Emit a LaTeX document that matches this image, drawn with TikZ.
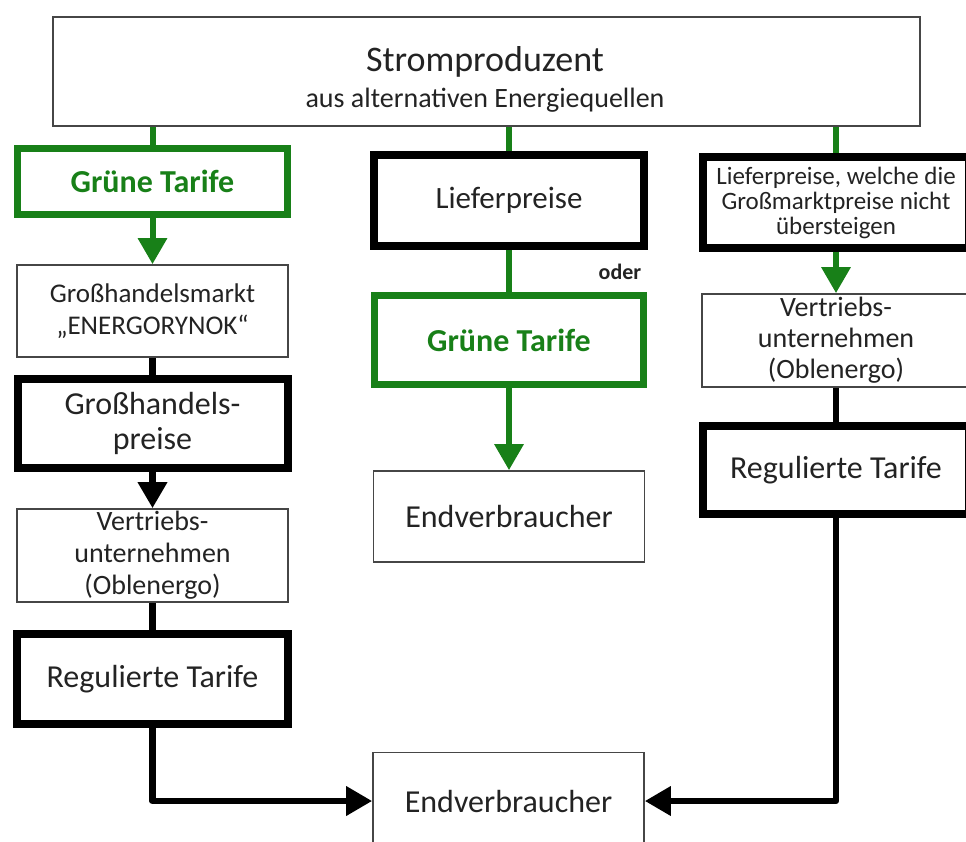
\documentclass[tikz,border=0pt]{standalone}
\usepackage{fontspec}
\setmainfont{Carlito}
\usetikzlibrary{arrows.meta,backgrounds}
\definecolor{grn}{RGB}{24,128,24}
\definecolor{txt}{RGB}{35,35,35}
\definecolor{thinc}{RGB}{70,70,70}
\begin{document}
\begin{tikzpicture}[x=1pt,y=-1pt,
  box/.style={rectangle, inner sep=0pt, align=center, text=txt},
  thinbox/.style={box, draw=thinc, line width=1.6pt},
  thickbox/.style={box, draw=black, line width=8pt},
  greenbox/.style={box, draw=grn, line width=7pt, text=grn, font=\bfseries\fontsize{32}{36}\selectfont},
  gline/.style={draw=grn, line width=6pt},
  bline/.style={draw=black, line width=6.5pt, line join=round},
  tip/.style={-{Triangle[width=28pt,length=26pt]}},
]
\useasboundingbox (0,0) rectangle (966,841);
\clip (0,0) rectangle (966,841);

% top
\node[thinbox, line width=2pt, minimum width=867pt, minimum height=109pt] (top) at (486.5,71.5) {};
\node[text=txt, inner sep=0pt, font=\fontsize{36}{38}\selectfont] (topA) at (485,62) {Stromproduzent};
\node[text=txt, inner sep=0pt, font=\fontsize{28}{30}\selectfont] (topB) at (485,100) {aus alternativen Energiequellen};

% left column
\node[greenbox, minimum width=270pt, minimum height=66pt] (gtL) at (152.5,181.5) {Grüne Tarife};
\node[thinbox, minimum width=271pt, minimum height=92pt, font=\fontsize{27}{32}\selectfont] (ghm) at (152.5,311) {Großhandelsmarkt\\„ENERGORYNOK“};
\node[thickbox, minimum width=270pt, minimum height=89pt, font=\fontsize{32}{35}\selectfont] (ghp) at (152.5,423.5) {Großhandels-\\preise};
\node[thinbox, minimum width=271pt, minimum height=93pt, font=\fontsize{28}{32}\selectfont] (vuL) at (152.5,555.5) {Vertriebs-\\unternehmen\\(Oblenergo)};
\node[thickbox, minimum width=271pt, minimum height=90pt, font=\fontsize{32}{35}\selectfont] (rtL) at (152.5,679) {Regulierte Tarife};

% middle column
\node[thickbox, minimum width=270pt, minimum height=91pt, font=\fontsize{31}{34}\selectfont] (lpM) at (509,200.5) {Lieferpreise};
\node[greenbox, minimum width=269pt, minimum height=89pt] (gtM) at (509,340) {Grüne Tarife};
\node[thinbox, minimum width=271pt, minimum height=91pt, font=\fontsize{32}{35}\selectfont] (endM) at (509,516.5) {Endverbraucher};
\node[text=txt, inner sep=0pt, font=\bfseries\fontsize{22}{24}\selectfont] (oder) at (620,272) {oder};

% right column
\node[thickbox, minimum width=266pt, minimum height=91pt, font=\fontsize{25}{25}\selectfont] (lpR) at (836,202.5) {Lieferpreise, welche die\\Großmarktpreise nicht\\übersteigen};
\node[thinbox, minimum width=268pt, minimum height=93pt, font=\fontsize{28}{31}\selectfont] (vuR) at (836,340.5) {Vertriebs-\\unternehmen\\(Oblenergo)};
\node[thickbox, minimum width=266pt, minimum height=88pt, font=\fontsize{32}{35}\selectfont] (rtR) at (836,470) {Regulierte Tarife};

% bottom
\node[thinbox, minimum width=271pt, minimum height=97pt, font=\fontsize{32}{35}\selectfont] (endB) at (508.5,801) {Endverbraucher};

\begin{pgfonlayer}{background}
\draw[gline] (top.south -| gtL.north) -- (gtL.north);
\draw[gline] (top.south -| lpM.north) -- (lpM.north);
\draw[gline] (top.south -| lpR.north) -- (lpR.north);
\draw[gline, tip] (gtL.south) -- (ghm.north);
\draw[bline] (ghm.south) -- (ghp.north);
\draw[bline, tip] (ghp.south) -- (vuL.north);
\draw[bline] (vuL.south) -- (rtL.north);
\draw[bline, tip] (rtL.south) |- (endB.west);
\draw[gline] (lpM.south) -- (gtM.north);
\draw[gline, tip] (gtM.south) -- (endM.north);
\draw[gline, tip] (lpR.south) -- (vuR.north);
\draw[bline] (vuR.south) -- (rtR.north);
\draw[bline, tip] (rtR.south) |- (endB.east);
\end{pgfonlayer}
\end{tikzpicture}
\end{document}
